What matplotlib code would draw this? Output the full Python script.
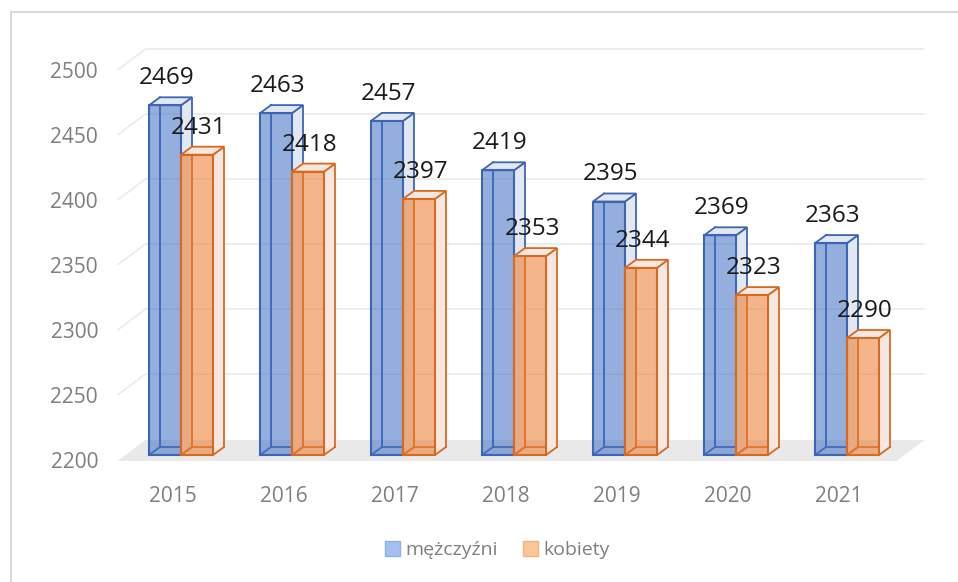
import matplotlib
matplotlib.use("Agg")
import matplotlib.pyplot as plt
from matplotlib.patches import Polygon, Patch, Rectangle

years = ["2015", "2016", "2017", "2018", "2019", "2020", "2021"]
men = [2469, 2463, 2457, 2419, 2395, 2369, 2363]
women = [2431, 2418, 2397, 2353, 2344, 2323, 2290]
series_names = ["mężczyźni", "kobiety"]
yticks = [2200, 2250, 2300, 2350, 2400, 2450, 2500]

W, H = 958, 582
fig = plt.figure(figsize=(W / 100, H / 100), dpi=100)
plt.rcParams['font.family'] = ['Open Sans', 'DejaVu Sans']

# axes geometry in pixels (front plane)
x_left, x_right = 117.5, 894.5
y_bot, y_top = 460, 70
ax = fig.add_axes([x_left / W, (H - y_bot) / H, (x_right - x_left) / W, (y_bot - y_top) / H])
ax.set_xlim(-0.5, len(years) - 0.5)
ax.set_ylim(2200, 2500)
ppx = (x_right - x_left) / len(years)   # px per x unit
ppy = (y_bot - y_top) / 300.0           # px per y unit

def dx(p):
    return p / ppx

def dy(p):
    return p / ppy

for s in ax.spines.values():
    s.set_visible(False)
ax.set_facecolor('none')
ax.set_yticks(yticks)
ax.set_yticklabels([str(t) for t in yticks])
ax.set_xticks(range(len(years)))
ax.set_xticklabels(years)
ax.tick_params(axis='y', length=0, pad=14, labelsize=15, labelcolor='#7f7f7f')
ax.tick_params(axis='x', length=0, pad=19, labelsize=15, labelcolor='#7f7f7f')

# depth of the floor / walls
fdx, fdy = dx(28), dy(21)
xl, xr = -0.5, len(years) - 0.5
# floor
floor = Polygon([(xl, 2200 - dy(1)), (xr + dx(2), 2200 - dy(1)), (xr + dx(2) + fdx, 2200 - dy(1) + fdy),
                 (xl + fdx, 2200 - dy(1) + fdy)], closed=True, facecolor='#e9e9e9', edgecolor='none',
                zorder=1, clip_on=False)
ax.add_patch(floor)
# gridlines (left wall diagonal + back wall)
for t in yticks[1:]:
    ax.plot([xl, xl + fdx, xr + dx(2) + fdx], [t, t + fdy, t + fdy], color='#ededed', lw=1.4,
            zorder=1, clip_on=False, solid_capstyle='butt')

# bars
colors = [("#4472C4", "#3d65b5", "#e3e7f0"), ("#ED7D31", "#d9691f", "#f5e8e2")]
bw = dx(32)
shift_x = dx(-24)
ys = dy(5)
ddx, ddy = dx(11), dy(8)
for i in range(len(years)):
    for s, vals in enumerate([men, women]):
        v = vals[i]
        face, edge, side = colors[s]
        x0 = i + shift_x + s * bw
        x1 = x0 + bw
        yb = 2200 + ys
        yt = v + ys
        z = 3 + i * 0.1 + s * 0.05
        # hidden edges
        ax.plot([x0, x0 + ddx, x0 + ddx, x0 + ddx], [yb, yb + ddy, yt + ddy, yb + ddy],
                color=edge, lw=1.3, zorder=z, clip_on=False)
        ax.plot([x0 + ddx, x1 + ddx], [yb + ddy, yb + ddy], color=edge, lw=1.3, zorder=z, clip_on=False)
        # right side
        ax.add_patch(Polygon([(x1, yb), (x1 + ddx, yb + ddy), (x1 + ddx, yt + ddy), (x1, yt)], closed=True,
                             facecolor=side, edgecolor=edge, lw=1.3, alpha=1, zorder=z + 0.01, clip_on=False))
        # top
        ax.add_patch(Polygon([(x0, yt), (x1, yt), (x1 + ddx, yt + ddy), (x0 + ddx, yt + ddy)], closed=True,
                             facecolor=side, edgecolor=edge, lw=1.3, zorder=z + 0.02, clip_on=False))
        # front
        ax.add_patch(Rectangle((x0, yb), bw, yt - yb, facecolor=face, alpha=0.57, edgecolor='none',
                               zorder=z + 0.03, clip_on=False))
        ax.add_patch(Rectangle((x0, yb), bw, yt - yb, facecolor='none', edgecolor=edge, lw=1.5,
                               zorder=z + 0.04, clip_on=False))
        ax.annotate(str(v), xy=((x0 + x1) / 2 + dx(2), yt), xytext=(0, 19.5), textcoords='offset points',
                    ha='center', va='center', fontsize=17.5, color='#1a1a1a', zorder=10, clip_on=False)

# chart border
fig.add_artist(Rectangle((11 / W, -0.1), 1.2, 1 - 12 / H + 0.1, transform=fig.transFigure,
                         facecolor='none', edgecolor='#d9d9d9', lw=1.5))

handles = [Patch(facecolor='#a4bff0', edgecolor='#8fb0ea', lw=1),
           Patch(facecolor='#fbc796', edgecolor='#f4b183', lw=1)]
fig.legend(handles, series_names, loc='center', bbox_to_anchor=(497 / W, 1 - 550 / H), ncol=2,
           frameon=False, fontsize=14, labelcolor='#7f7f7f', handlelength=0.8, handleheight=0.8,
           handletextpad=0.25, columnspacing=1.3)

fig.savefig("out.png", dpi=100)
